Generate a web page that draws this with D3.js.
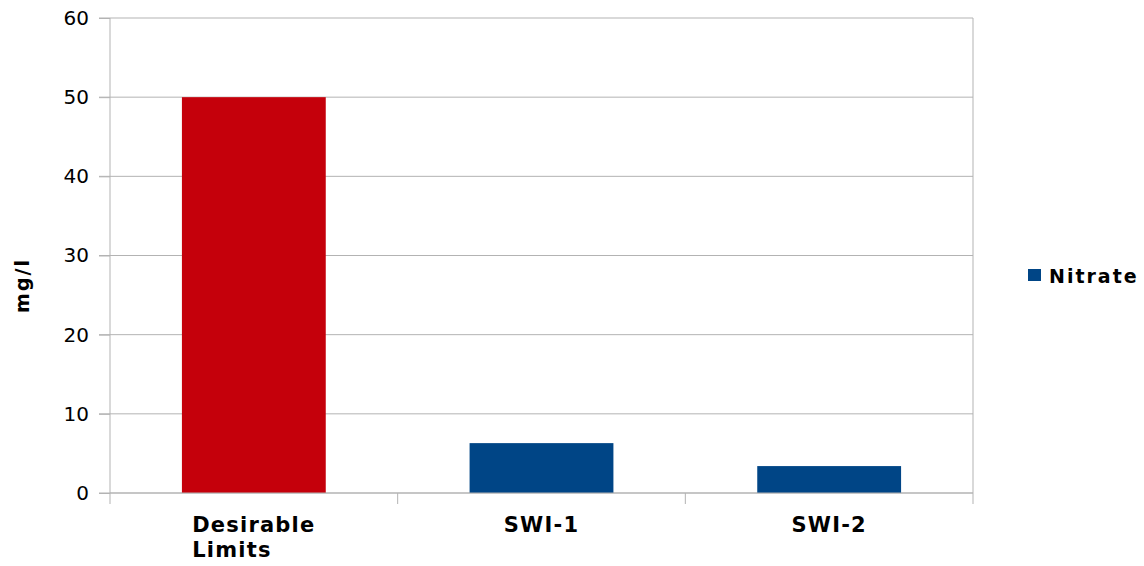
<!DOCTYPE html>
<html>
<head>
<meta charset="utf-8">
<script src="https://cdn.jsdelivr.net/npm/d3@7"></script>
<style>
  body { margin: 0; background: #fff; }
  svg text { font-family: "DejaVu Sans", Verdana, sans-serif; }
</style>
</head>
<body>
<svg id="chart" width="1144" height="566"></svg>
<script>
// data
const categories = ["Desirable Limits", "SWI-1", "SWI-2"];
const nitrate = [50, 6.3, 3.4];
const barColors = ["#c5000b", "#004586", "#004586"];
const yTicks = [0, 10, 20, 30, 40, 50, 60];
const seriesName = "Nitrate";
const yTitle = "mg/l";

const margin = {top: 18, left: 110, right: 171, bottom: 73};
const width = 1144, height = 566;
const innerW = width - margin.left - margin.right;
const innerH = height - margin.top - margin.bottom;
const grid = "#b3b3b3";

const svg = d3.select("#chart");
const g = svg.append("g").attr("transform", `translate(${margin.left},${margin.top})`);

const x = d3.scaleBand().domain(categories).range([0, innerW]).paddingInner(0.5).paddingOuter(0.25);
const y = d3.scaleLinear().domain([0, 60]).range([innerH, 0]);

// gridlines
g.append("g").selectAll("line")
    .data(yTicks)
    .enter().append("line")
        .attr("x1", -11).attr("x2", innerW)
        .attr("y1", d => y(d)).attr("y2", d => y(d))
        .attr("stroke", grid).attr("stroke-width", 1);

// right border
g.append("line")
    .attr("x1", innerW).attr("x2", innerW)
    .attr("y1", 0).attr("y2", innerH)
    .attr("stroke", grid);

// bars
g.selectAll("rect.bar")
    .data(nitrate)
    .enter().append("rect")
        .attr("class", "bar")
        .attr("x", (d, i) => x(categories[i]))
        .attr("y", d => y(d))
        .attr("width", x.bandwidth())
        .attr("height", d => innerH - y(d))
        .attr("fill", (d, i) => barColors[i]);

// y axis
const yAxis = d3.axisLeft(y).tickValues(yTicks).tickSize(11).tickPadding(10);
const yg = g.append("g").call(yAxis);
yg.select(".domain").attr("stroke", grid).attr("d", `M0,${innerH}V0`);
yg.selectAll(".tick line").attr("stroke", grid);
yg.selectAll(".tick text")
    .attr("fill", "#000")
    .style("font-size", "20px")
    .style("font-family", "DejaVu Sans");

// x axis: ticks at category boundaries
const step = innerW / categories.length;
const bounds = d3.range(categories.length + 1).map(i => i * step);
const xg = g.append("g").attr("transform", `translate(0,${innerH})`);
xg.append("line").attr("x1", 0).attr("x2", innerW).attr("stroke", grid);
xg.selectAll("line.tk")
    .data(bounds)
    .enter().append("line")
        .attr("class", "tk")
        .attr("x1", d => d).attr("x2", d => d)
        .attr("y1", 0).attr("y2", 11)
        .attr("stroke", grid);

// category labels
categories.forEach((c, i) => {
    const words = c.split(" ");
    const cx = x(c) + x.bandwidth() / 2;
    const t = xg.append("text")
        .attr("x", cx)
        .attr("y", 39)
        .attr("text-anchor", words.length > 1 ? "start" : "middle")
        .style("font-size", "21px")
        .style("font-weight", "bold")
        .style("letter-spacing", "1.2px")
        .attr("fill", "#000");
    words.forEach((w, k) => {
        t.append("tspan").attr("x", cx).attr("dy", k === 0 ? 0 : 25).text(w);
    });
    if (words.length > 1) {
        const bw = t.node().getBBox().width;
        t.selectAll("tspan").attr("x", cx - bw / 2);
    }
});

// y title
svg.append("text")
    .attr("transform", `translate(29,${margin.top + innerH / 2 + 30}) rotate(-90)`)
    .attr("text-anchor", "middle")
    .style("font-size", "19px")
    .style("font-weight", "bold")
    .style("letter-spacing", "2px")
    .text(yTitle);

// legend
const legend = svg.append("g").attr("transform", "translate(1028,269)");
legend.append("rect")
    .attr("width", 13).attr("height", 12)
    .attr("fill", barColors[1]);
legend.append("text")
    .attr("x", 21).attr("y", 14)
    .style("font-size", "19px")
    .style("font-weight", "bold")
    .style("letter-spacing", "2px")
    .text(seriesName);
</script>
</body>
</html>
